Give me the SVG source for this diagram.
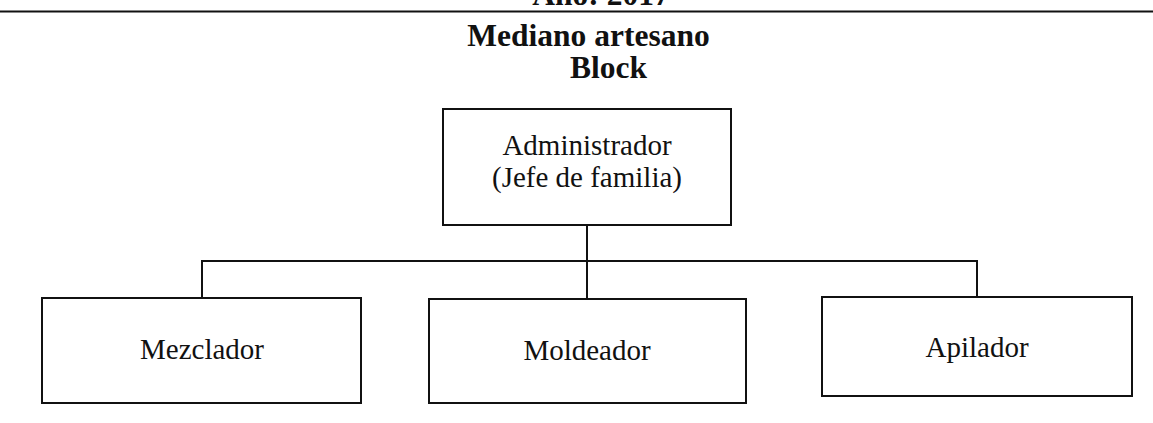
<svg xmlns="http://www.w3.org/2000/svg" width="1153" height="423" viewBox="0 0 1153 423">
  <style>
    .box { fill: #ffffff; stroke: #111111; stroke-width: 2; }
    .conn { fill: none; stroke: #111111; stroke-width: 2; }
    .t { font-family: "Liberation Serif", "Times New Roman", serif; font-size: 29px; fill: #111111; text-anchor: middle; }
    .h { font-family: "Liberation Serif", "Times New Roman", serif; font-size: 31.5px; font-weight: bold; fill: #111111; text-anchor: middle; }
  </style>
  <rect width="1153" height="423" fill="#ffffff"/>
  <g id="header">
    <text class="h" x="601" y="5">Año: 2017</text>
    <line x1="0" y1="11.5" x2="1153" y2="11.5" stroke="#111111" stroke-width="2"/>
    <text class="h" x="588.5" y="46">Mediano artesano</text>
    <text class="h" x="608.5" y="78">Block</text>
  </g>
  <g id="connectors">
    <line class="conn" x1="587" y1="225" x2="587" y2="299"/>
    <polyline class="conn" points="202,298 202,261 977,261 977,297"/>
  </g>
  <g id="node-administrador">
    <rect class="box" x="443" y="109" width="288" height="116"/>
    <text class="t" x="587" y="155">Administrador</text>
    <text class="t" x="587" y="187">(Jefe de familia)</text>
  </g>
  <g id="node-mezclador">
    <rect class="box" x="42" y="298" width="319" height="105"/>
    <text class="t" x="202" y="359">Mezclador</text>
  </g>
  <g id="node-moldeador">
    <rect class="box" x="429" y="299" width="317" height="104"/>
    <text class="t" x="587" y="360">Moldeador</text>
  </g>
  <g id="node-apilador">
    <rect class="box" x="822" y="297" width="310" height="99"/>
    <text class="t" x="977" y="357">Apilador</text>
  </g>
</svg>
